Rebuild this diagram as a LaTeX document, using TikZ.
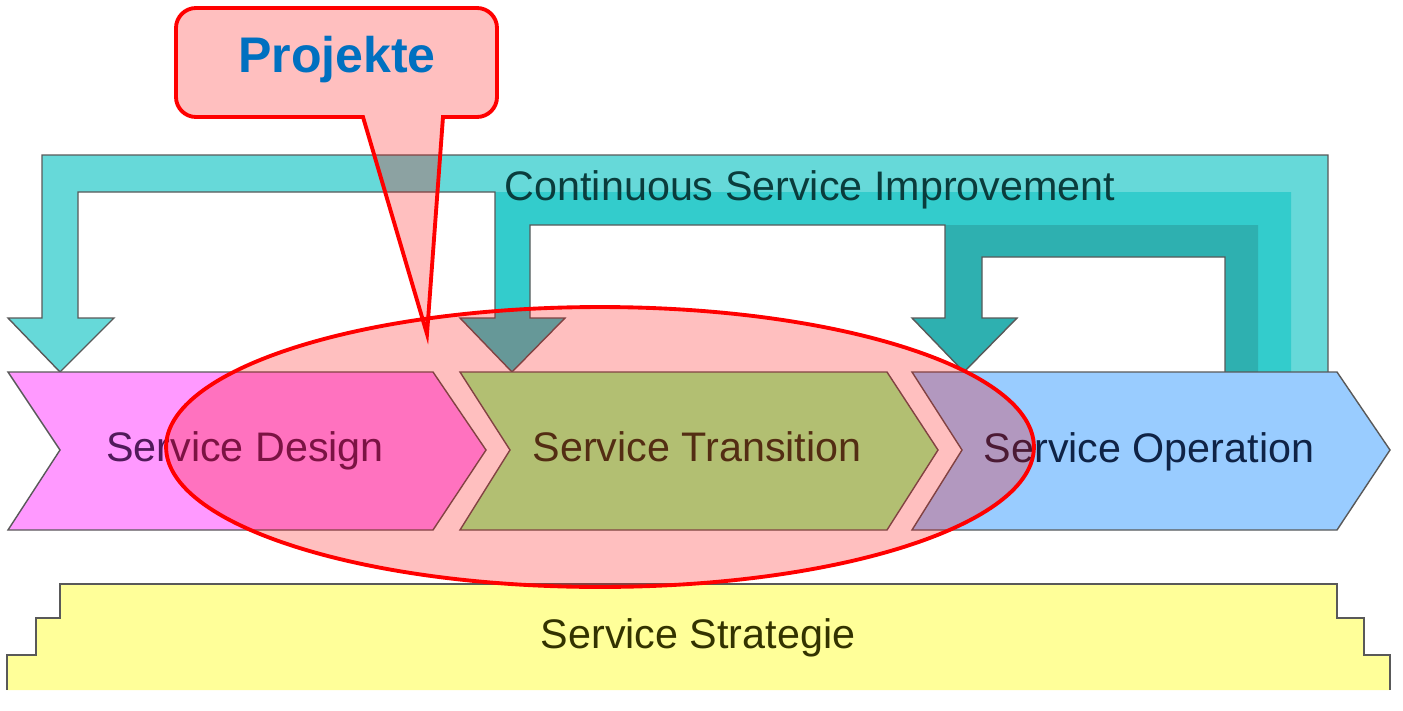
\documentclass[tikz,border=0pt]{standalone}
\usepackage{fontspec}
\setmainfont{Liberation Sans}
\definecolor{tealA}{HTML}{66D9D9}
\definecolor{tealB}{HTML}{33CCCC}
\definecolor{tealC}{HTML}{2EB0B0}
\definecolor{design}{HTML}{FF99FF}
\definecolor{trans}{HTML}{99FF99}
\definecolor{oper}{HTML}{99CCFF}
\definecolor{strat}{HTML}{FFFF99}
\definecolor{blueP}{HTML}{0070C0}
\definecolor{txtD}{HTML}{501A5A}
\definecolor{txtT}{HTML}{1A3D1A}
\definecolor{txtO}{HTML}{0F2346}
\definecolor{txtS}{HTML}{333300}
\definecolor{txtC}{HTML}{0A3C3C}
\begin{document}
\begin{tikzpicture}[x=0.02cm,y=-0.02cm,
  outl/.style={draw=black!65,line width=0.8pt},
  lbl/.style={font=\fontsize{23.5}{27}\selectfont,anchor=base},
  proj/.style={fill=red,fill opacity=0.25,draw=red,draw opacity=1,line width=2.2pt}]
\useasboundingbox (0,0) rectangle (1403,710);
\fill[tealA] (42,155) -- (1328,155) -- (1328,372) -- (1291,372) -- (1291,192) -- (78,192) -- (78,318) -- (114,318) -- (60,372) -- (8,318) -- (42,318) -- cycle;
\fill[tealB] (495,192) -- (1291,192) -- (1291,372) -- (1258,372) -- (1258,225) -- (530,225) -- (530,318) -- (565,318) -- (512,372) -- (460,318) -- (495,318) -- cycle;
\fill[tealC] (945,225) -- (1258,225) -- (1258,372) -- (1225,372) -- (1225,257) -- (982,257) -- (982,318) -- (1017,318) -- (964,372) -- (912,318) -- (945,318) -- cycle;
\draw[outl] (1328,372) -- (1328,155) -- (42,155) -- (42,318) -- (8,318) -- (60,372) -- (114,318) -- (78,318) -- (78,192) -- (495,192) -- (495,318) -- (460,318) -- (512,372) -- (565,318) -- (530,318) -- (530,225) -- (945,225) -- (945,318) -- (912,318) -- (964,372) -- (1017,318) -- (982,318) -- (982,257) -- (1225,257) -- (1225,372);
\draw[outl,fill=design] (8,372) -- (433,372) -- (486,450) -- (433,530) -- (8,530) -- (60,450) -- cycle;
\draw[outl,fill=trans] (460,372) -- (887,372) -- (938,450) -- (887,530) -- (460,530) -- (510,450) -- cycle;
\draw[outl,fill=oper] (912,372) -- (1337,372) -- (1390,450) -- (1337,530) -- (912,530) -- (962,450) -- cycle;
\fill[strat] (7,690) -- (7,655) -- (36,655) -- (36,618) -- (60,618) -- (60,584) -- (1337,584) -- (1337,618) -- (1364,618) -- (1364,655) -- (1390,655) -- (1390,690) -- cycle;
\draw[outl] (7,690) -- (7,655) -- (36,655) -- (36,618) -- (60,618) -- (60,584) -- (1337,584) -- (1337,618) -- (1364,618) -- (1364,655) -- (1390,655) -- (1390,690);
\node[lbl,text=txtC] (c1) at (810,200) {Continuous Service Improvement};
\node[lbl,text=txtD] (v1) at (245,461) {Service Design};
\node[lbl,text=txtT] (v2) at (697,461) {Service Transition};
\node[lbl,text=txtO] (v3) at (1149,462) {Service Operation};
\node[lbl,text=txtS] (v4) at (698,648) {Service Strategie};
\draw[proj] (600,447) ellipse (8.68cm and 2.8cm);
\draw[proj] (176,60) [rounded corners=0.4cm] -- (176,8) -- (497,8) -- (497,117) [sharp corners] -- (443,117) -- (427,334) -- (363,117) -- (300,117) [rounded corners=0.4cm] -- (176,117) -- cycle;
\node[font=\bfseries\fontsize{28.5}{32}\selectfont,text=blueP,anchor=base] (p1) at (337,72) {Projekte};
\end{tikzpicture}
\end{document}
